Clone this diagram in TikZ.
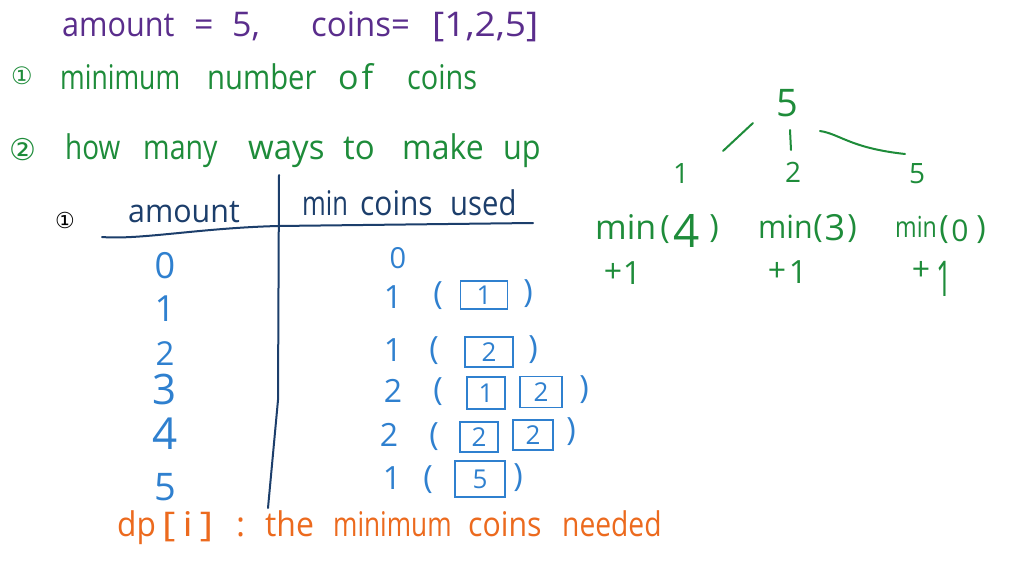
\documentclass[tikz,border=0pt]{standalone}
\usepackage{fontspec}
\usepackage{graphicx}
\setmainfont{Open Sans}
\newfontfamily\symfont{DejaVu Sans}
\newcommand\sx[2]{\scalebox{#1}[1]{#2}}
\definecolor{pur}{HTML}{5A2D8C}
\definecolor{grn}{HTML}{1E8C3A}
\definecolor{blu}{HTML}{2F80CF}
\definecolor{nav}{HTML}{1C3E6B}
\definecolor{org}{HTML}{EC6A1E}
\tikzset{
  hw/.style={inner sep=0pt, anchor=base west, font=\fontsize{34}{36}\selectfont},
  hwc/.style={inner sep=0pt, anchor=center, font=\fontsize{32}{34}\selectfont},
  coin/.style={draw=blu, line width=1.6pt, text=blu, inner sep=0pt, minimum width=46pt, minimum height=28pt, font=\fontsize{26}{28}\selectfont},
  pen/.style={line width=2pt, line cap=round},
}
\begin{document}
\begin{tikzpicture}[x=1pt,y=-1pt]
\useasboundingbox (0,0) rectangle (1013,562);
\fill[white] (0,0) rectangle (1013,562);
% title
\begin{scope}[every node/.append style={text=pur, font=\fontsize{36}{38}\selectfont}]
\node[hw] (ti1) at (62,36) {\sx{0.9}{amount}};
\node[hw] (ti2) at (194,36) {=};
\node[hw] (ti3) at (232,36) {5,};
\node[hw] (ti4) at (311,36) {\sx{0.97}{coins=}};
\node[hw] (ti5) at (432,36) {\sx{1.09}{[1,2,5]}};
\end{scope}
% questions
\begin{scope}[every node/.append style={text=grn}]
\node[hwc, font=\symfont\fontsize{24}{26}\selectfont] (c1) at (22,76) {①};
\node[hw] (q1a) at (60,89) {\sx{0.78}{minimum}};
\node[hw] (q1b) at (207,89) {\sx{0.86}{number}};
\node[hw] (q1c) at (338,89) {o\hspace{3pt}f};
\node[hw] (q1d) at (407,89) {\sx{0.85}{coins}};
\node[hwc, font=\symfont\fontsize{30}{32}\selectfont] (c2) at (23,150) {②};
\node[hw] (q2a) at (65,159) {\sx{0.82}{how}};
\node[hw] (q2b) at (143,159) {\sx{0.84}{many}};
\node[hw] (q2c) at (248,159) {\sx{0.97}{ways}};
\node[hw] (q2d) at (343,159) {\sx{0.97}{to}};
\node[hw] (q2e) at (402,159) {\sx{0.94}{make}};
\node[hw] (q2f) at (503,159) {\sx{0.9}{up}};
\end{scope}
% table header
\node[hwc, text=black, font=\symfont\fontsize{22}{24}\selectfont] (c3) at (65,220) {①};
\node[hw, text=nav, font=\fontsize{32}{34}\selectfont] (hamt) at (128,222) {\sx{0.95}{amount}};
\begin{scope}[every node/.append style={text=nav, font=\fontsize{28}{30}\selectfont}]
\node[hw] (hmina) at (302,215) {\sx{0.75}{min}};
\node[hw] (hminb) at (360,215) {\sx{0.88}{coins}};
\node[hw] (hminc) at (450,215) {\sx{0.86}{used}};
\end{scope}
\coordinate (hl) at (102,237);
\coordinate (hr) at (533,223);
\coordinate (vt) at (279,175);
\coordinate (vb) at (268,508);
\draw[pen, nav] (hl) .. controls (140,240) and (200,228) .. (278,226) -- (hr);
\draw[pen, nav] (vt) -- (278,400) -- (vb);
% amount column
\begin{scope}[every node/.append style={hwc, text=blu, font=\fontsize{36}{38}\selectfont}]
\node (a0) at (165,266) {0};
\node (a1) at (165,309) {1};
\node[font=\fontsize{33}{35}\selectfont] (a2) at (165,354) {2};
\node[font=\fontsize{42}{44}\selectfont] (a3) at (165,389) {3};
\node[font=\fontsize{44}{46}\selectfont] (a4) at (165,434) {4};
\node[font=\fontsize{38}{40}\selectfont] (a5) at (165,487) {5};
\end{scope}
% min coins column
\begin{scope}[every node/.append style={text=blu}]
\node[hwc, font=\fontsize{29}{31}\selectfont] (m0) at (398,258) {0};
\node[hwc] (m1) at (393,297) {1};
\node[hwc] (p1l) at (438,296) {(};
\node[coin, minimum width=47pt] (k1) at (484,295) {1};
\node[hwc] (p1r) at (528,294) {)};
\node[hwc] (m2) at (393,350) {1};
\node[hwc] (p2l) at (434,351) {(};
\node[coin, minimum width=48pt, minimum height=30pt] (k2) at (489,352) {2};
\node[hwc] (p2r) at (533,350) {)};
\node[hwc] (m3) at (393,391) {2};
\node[hwc] (p3l) at (438,392) {(};
\node[coin, minimum width=38pt, minimum height=32pt] (k3a) at (486,393) {1};
\node[coin, minimum width=42pt, minimum height=31pt] (k3b) at (541,392) {2};
\node[hwc] (p3r) at (584,390) {)};
\node[hwc] (m4) at (389,435) {2};
\node[hwc] (p4l) at (434,437) {(};
\node[coin, minimum width=38pt, minimum height=30pt] (k4a) at (479,437) {2};
\node[coin, minimum width=40pt, minimum height=30pt] (k4b) at (533,435) {2};
\node[hwc] (p4r) at (571,432) {)};
\node[hwc] (m5) at (392,478) {1};
\node[hwc] (p5l) at (428,480) {(};
\node[coin, minimum width=50pt, minimum height=36pt] (k5) at (480,479) {5};
\node[hwc] (p5r) at (518,478) {)};
\end{scope}
% dp definition
\begin{scope}[every node/.append style={text=org, font=\fontsize{32}{34}\selectfont}]
\node[hw] (dp1) at (117,536) {\sx{0.93}{dp}};
\node[hw] (dp2) at (162,536) {\sx{1.19}{[\hspace{6pt}i\hspace{6pt}]}};
\node[hw] (dp3) at (236,536) {:};
\node[hw] (dp4) at (265,536) {\sx{0.94}{the}};
\node[hw] (dp5) at (333,536) {\sx{0.77}{minimum}};
\node[hw] (dp6) at (468,536) {\sx{0.89}{coins}};
\node[hw] (dp7) at (562,536) {\sx{0.83}{needed}};
\end{scope}
% tree
\begin{scope}[every node/.append style={hwc, text=grn}]
\node[font=\fontsize{38}{40}\selectfont] (r) at (787,103) {5};
\node[font=\fontsize{28}{30}\selectfont] (t1) at (681,174) {1};
\node[font=\fontsize{28}{30}\selectfont] (t2) at (793,172) {2};
\node[font=\fontsize{28}{30}\selectfont] (t5) at (917,174) {5};
\node[anchor=base west, font=\fontsize{34}{36}\selectfont] (f1a) at (595,239) {min};
\node (f1b) at (665,230) {(};
\node[font=\fontsize{46}{48}\selectfont] (f1c) at (687,231) {4};
\node (f1d) at (714,229) {)};
\node[anchor=base west, font=\fontsize{32}{34}\selectfont] (f2a) at (758,238) {\sx{0.95}{min}};
\node (f2b) at (818,229) {(};
\node[font=\fontsize{36}{38}\selectfont] (f2c) at (835,228) {3};
\node (f2d) at (852,229) {)};
\node[anchor=base west, font=\fontsize{29}{31}\selectfont] (f3a) at (895,237) {\sx{0.8}{min}};
\node (f3b) at (944,230) {(};
\node[font=\fontsize{30}{32}\selectfont] (f3c) at (960,231) {0};
\node (f3d) at (981,230) {)};
\node (s1a) at (613,273) {+};
\node (s1b) at (632,273) {1};
\node (s2a) at (777,272) {+};
\node (s2b) at (798,272) {1};
\node (s3a) at (921,271) {+};
\node[font=\fontsize{34}{36}\selectfont] (s3b) at (944,279) {\scalebox{0.8}[1.45]{1}};
\end{scope}
\coordinate (e1a) at (753,123);
\coordinate (e1b) at (723,151);
\coordinate (e2a) at (790,130);
\coordinate (e2b) at (791,150);
\coordinate (e3a) at (820,131);
\coordinate (e3b) at (905,154);
\draw[pen, grn] (e1a) -- (e1b);
\draw[pen, grn] (e2a) -- (e2b);
\draw[pen, grn] (e3a) .. controls (840,134) and (850,148) .. (e3b);
\end{tikzpicture}
\end{document}
